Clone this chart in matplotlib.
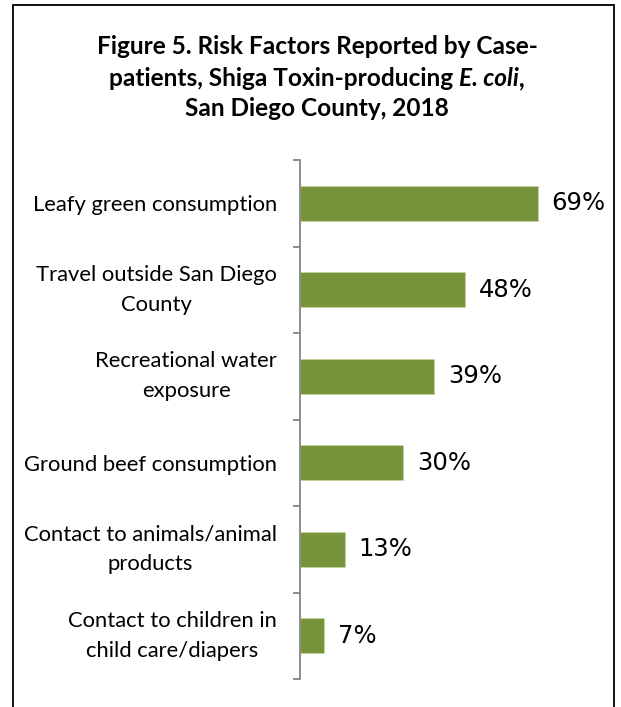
import matplotlib
matplotlib.use("Agg")
import matplotlib.pyplot as plt
import matplotlib.transforms as mtransforms
from matplotlib.patches import Rectangle

categories = [
    "Leafy green consumption",
    "Travel outside San Diego\nCounty",
    "Recreational water\nexposure",
    "Ground beef consumption",
    "Contact to animals/animal\nproducts",
    "Contact to children in\nchild care/diapers",
]
values = [69, 48, 39, 30, 13, 7]
value_labels = ["69%", "48%", "39%", "30%", "13%", "7%"]

W, H = 621, 707
fig = plt.figure(figsize=(W / 100, H / 100), dpi=100)

# border
fig.add_artist(Rectangle((13 / W, -0.05), (614 - 13) / W, 1.05 - 5 / H,
                         transform=fig.transFigure, fill=False,
                         edgecolor="black", linewidth=1.3))

# axes: x from 300 to 610 px, y from 160 to 679 px (top-down)
ax = fig.add_axes([300 / W, 1 - 679 / H, 310 / W, (679 - 160) / H])
n = len(categories)
ypos = list(range(n))
ax.barh(ypos, values, height=0.4, color="#77933C", edgecolor="#C3D69B",
        linewidth=0.6)
ax.set_xlim(0, 90)
ax.set_ylim(n - 0.5, -0.5)

for y, v, lab in zip(ypos, values, value_labels):
    ax.text(v + 4, y, lab, va="center", ha="left", fontsize=17.5,
            family="DejaVu Sans", color="black")

for s in ["top", "right", "bottom"]:
    ax.spines[s].set_visible(False)
ax.spines["left"].set_color("#868686")
ax.spines["left"].set_linewidth(1.3)
ax.set_xticks([])
ax.set_yticks([])
ax.set_yticks([i - 0.5 for i in range(n + 1)], minor=True)
ax.tick_params(axis="y", which="minor", length=5, width=1.3, color="#868686",
               labelleft=False)

# category labels
base = mtransforms.blended_transform_factory(ax.transAxes, ax.transData)
for y, lab in zip(ypos, categories):
    dy = 0.0 if "\n" in lab else -2 / 100
    tr = base + mtransforms.ScaledTranslation(-23 / 100, dy, fig.dpi_scale_trans)
    ax.text(0, y, lab, transform=tr, ha="right", va="center",
            multialignment="center", family="Lato", fontsize=15.8,
            linespacing=1.6, color="black")

# title with italic part
fs = 17.6
fig.text(317 / W, 1 - 47 / H, "Figure 5. Risk Factors Reported by Case-",
         ha="center", va="center", fontsize=fs, family="Lato", weight="bold")
fig.text(317 / W, 1 - 109 / H, "San Diego County, 2018",
         ha="center", va="center", fontsize=fs, family="Lato", weight="bold")

parts = [("patients, Shiga Toxin-producing ", "normal"), ("E. coli", "italic"), (",", "normal")]
fig.canvas.draw()
r = fig.canvas.get_renderer()
texts = []
widths = []
for s, st in parts:
    t = fig.text(0, 1 - 79 / H, s, ha="left", va="center", fontsize=fs,
                 family="Lato", weight="bold", style=st)
    texts.append(t)
    widths.append(t.get_window_extent(r).width)
total = sum(widths)
x0 = 317 - total / 2
for t, w in zip(texts, widths):
    t.set_x(x0 / W)
    x0 += w

fig.savefig("out.png", dpi=100)
